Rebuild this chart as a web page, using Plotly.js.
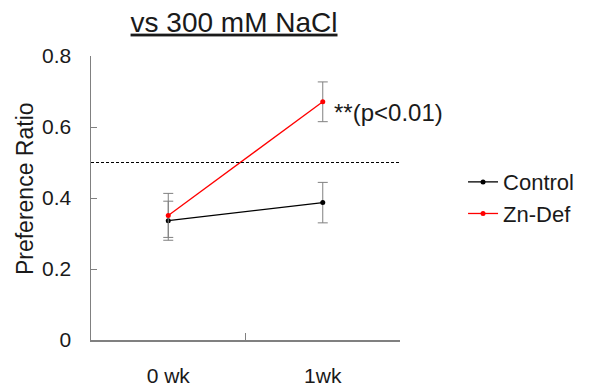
<!DOCTYPE html>
<html>
<head>
<meta charset="utf-8">
<script src="https://cdn.plot.ly/plotly-3.0.1.min.js"></script>
<style>html,body{margin:0;padding:0;background:#fff;}#chart{width:594px;height:390px;}</style>
</head>
<body>
<div id="chart"></div>
<script>
const categories = ["0 wk", "1wk"];
const controlMean = [0.336, 0.387];
const controlErr = [0.055, 0.057];
const znDefMean = [0.351, 0.671];
const znDefErr = [0.062, 0.056];
const referenceLevel = 0.5;
const yTicks = [0, 0.2, 0.4, 0.6, 0.8];
const yTickLabels = ["0", "0.2", "0.4", "0.6", "0.8"];

const font = "Liberation Sans, Arial, sans-serif";
const txt = "#1a1a1a";

const traces = [
  {
    x: categories, y: controlMean, name: "Control", type: "scatter", mode: "lines+markers",
    line: {color: "#000000", width: 1.3}, marker: {color: "#000000", size: 5},
    error_y: {type: "data", array: controlErr, visible: true, color: "#808080", thickness: 1, width: 5}
  },
  {
    x: categories, y: znDefMean, name: "Zn-Def", type: "scatter", mode: "lines+markers",
    line: {color: "#ff0000", width: 1.3}, marker: {color: "#ff0000", size: 5},
    error_y: {type: "data", array: znDefErr, visible: true, color: "#808080", thickness: 1, width: 5}
  }
];

const layout = {
  width: 594, height: 390,
  margin: {l: 91, r: 194, t: 56, b: 50},
  paper_bgcolor: "#ffffff", plot_bgcolor: "#ffffff",
  font: {family: font, color: txt},
  showlegend: true,
  legend: {x: 1.204, y: 0.63, xanchor: "left", yanchor: "top", font: {size: 22, family: font, color: txt},
           bgcolor: "rgba(0,0,0,0)", itemwidth: 30, tracegroupgap: 0},
  title: {text: "<u>vs 300 mM NaCl</u>", x: 0.394, xanchor: "center", y: 0.944, yanchor: "middle",
          font: {size: 28, family: font, color: txt}},
  xaxis: {
    type: "category", range: [-0.5, 1.5], tickson: "boundaries",
    showline: true, linecolor: "#808080", linewidth: 1.5,
    ticks: "inside", ticklen: 7, tickcolor: "#808080",
    showgrid: false, zeroline: false, fixedrange: true,
    tickfont: {size: 21, family: font, color: txt}, ticklabelstandoff: 16
  },
  yaxis: {
    range: [0, 0.8], tickvals: yTicks, ticktext: yTickLabels,
    showline: true, linecolor: "#808080", linewidth: 1.5,
    ticks: "inside", ticklen: 6, tickcolor: "#808080",
    showgrid: false, zeroline: false, fixedrange: true,
    tickfont: {size: 21, family: font, color: txt}, ticklabelstandoff: 14
  },
  shapes: [
    {type: "line", xref: "paper", x0: 0, x1: 1, yref: "y", y0: referenceLevel, y1: referenceLevel,
     line: {color: "#000000", width: 1, dash: "3px,2px"}}
  ],
  annotations: [
    {text: "**(p<0.01)", xref: "x", yref: "y", x: 1, y: znDefMean[1], xanchor: "left", yanchor: "middle",
     xshift: 9, yshift: -11, showarrow: false, font: {size: 24, family: font, color: txt}},
    {text: "Preference Ratio", xref: "paper", yref: "paper", x: -0.2136, y: 0.535, xanchor: "center", yanchor: "middle",
     textangle: -90, showarrow: false, font: {size: 23, family: font, color: txt}}
  ]
};

Plotly.newPlot("chart", traces, layout, {displayModeBar: false, staticPlot: true});
</script>
</body>
</html>
